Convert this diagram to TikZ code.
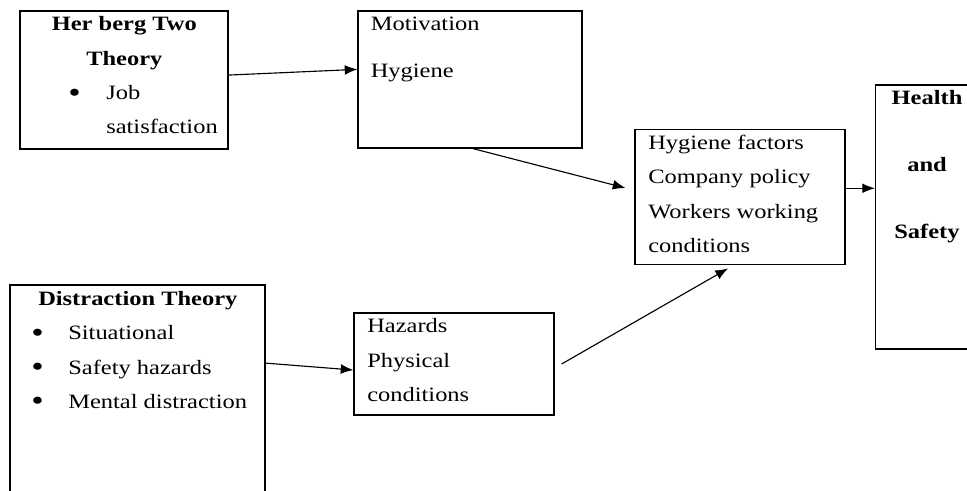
\documentclass[tikz,border=0pt]{standalone}
\usepackage{fontspec}
\setmainfont{Liberation Serif}[FakeStretch=1.2]
\usetikzlibrary{arrows.meta}

\tikzset{
  box/.style={draw, line width=0.8pt, inner sep=0pt},
  boxtext/.style={inner sep=0pt, anchor=north west, font=\fontsize{14.5pt}{24.45pt}\selectfont},
  link/.style={-{Latex[length=9pt, width=7pt]}, line width=0.8pt}
}
\newcommand{\bigdot}{\raisebox{-0.12em}{\scalebox{1.45}{\textbullet}}}

\begin{document}
\begin{tikzpicture}[x=0.025cm, y=-0.025cm]

\useasboundingbox (0, 0) rectangle (967, 491);
\clip (0, 0) rectangle (967, 491);

\draw (124, 80) node [box, minimum width=5.2cm, minimum height=3.45cm] (herz) {};
\draw (20, 6.5) node [boxtext] (herztext) {\begin{tabular}{@{}p{2.15cm}@{}p{3.05cm}@{}}\multicolumn{2}{@{}c@{}}{\textbf{Her berg Two}}\\\multicolumn{2}{@{}c@{}}{\textbf{Theory}}\\\hspace*{1.2cm}\bigdot & Job\\ & satisfaction\end{tabular}};

\draw (470, 79.5) node [box, minimum width=5.6cm, minimum height=3.425cm] (mot) {};
\draw (370.5, 6.5) node [boxtext] (mottext) {\begin{tabular}{@{}l@{}}Motivation\\[0.3cm]Hygiene\end{tabular}};

\draw (740, 196.7) node [box, minimum width=5.25cm, minimum height=3.375cm] (hyg) {};
\draw (648, 125.2) node [boxtext] (hygtext) {\begin{tabular}{@{}l@{}}Hygiene factors\\Company policy\\Workers working\\conditions\end{tabular}};

\draw (937.75, 217) node [box, minimum width=3.1125cm, minimum height=6.6cm] (health) {};
\draw (927, 80) node [boxtext, anchor=north] (healthtext) {\begin{tabular}{@{}c@{}}\textbf{Health}\\[0.82cm]\textbf{and}\\[0.82cm]\textbf{Safety}\end{tabular}};

\draw (137.5, 402.5) node [box, minimum width=6.375cm, minimum height=5.875cm] (dist) {};
\draw (10, 281) node [boxtext] (disttext) {\begin{tabular}{@{}p{1.45cm}@{}p{4.925cm}@{}}\multicolumn{2}{@{}c@{}}{\textbf{Distraction Theory}}\\\hspace*{0.525cm}\bigdot & Situational\\\hspace*{0.525cm}\bigdot & Safety hazards\\\hspace*{0.525cm}\bigdot & Mental distraction\end{tabular}};

\draw (454, 364) node [box, minimum width=5cm, minimum height=2.55cm] (haz) {};
\draw (367, 308.5) node [boxtext] (haztext) {\begin{tabular}{@{}l@{}}Hazards\\Physical\\conditions\end{tabular}};

\draw [link] ([yshift=3.5pt]herz.east) -- ([yshift=7.2pt]mot.west);
\draw [link] ([xshift=2pt]mot.south) -- ([xshift=-6.4pt, yshift=6.2pt]hyg.west);
\draw [link] ([yshift=6pt]hyg.east) -- ([yshift=6pt]hyg.east -| health.west);
\draw [link] ([yshift=28pt]dist.east) -- ([yshift=-4.3pt]haz.west);
\draw [link] ([xshift=5pt]haz.east) -- ([xshift=-8.5pt, yshift=-2.6pt]hyg.south);

\end{tikzpicture}
\end{document}
